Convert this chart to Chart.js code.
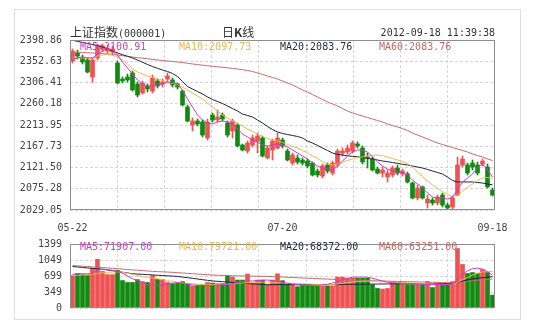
<!DOCTYPE html>
<html>
<head>
<meta charset="utf-8">
<title>上证指数 日K线</title>
<script src="https://cdn.jsdelivr.net/npm/chart.js@4/dist/chart.umd.min.js"></script>
<style>
  body { margin: 0; background: #fff; }
  #wrap { position: relative; width: 534px; height: 322px; overflow: hidden; }
  .box { position: absolute; left: 14px; top: 9px; width: 505px; height: 309px; border: 1px solid #dedede; }
  canvas { position: absolute; left: 0; }
  #kline { top: 0; }
  #vol { top: 230px; }
  .t { position: absolute; white-space: nowrap; font: 10px "DejaVu Sans Mono", monospace; line-height: 12px; color: #333; }
  .cjk { font-family: "Noto Sans CJK SC", sans-serif; font-size: 12px; }
  .c5 { color: #c93cc9; }
  .c10 { color: #e8b654; }
  .c20 { color: #1e2a40; }
  .c60 { color: #c86464; }
</style>
</head>
<body>
<div id="wrap">
  <div class="box"></div>
  <canvas id="kline" width="534" height="235"></canvas>
  <canvas id="vol" width="534" height="92"></canvas>

  <div class="t" style="left:70px;top:25px;line-height:14px"><span class="cjk">上证指数</span>(000001)</div>
  <div class="t cjk" style="left:222px;top:25px;line-height:14px">日<b>K</b>线</div>
  <div class="t" style="right:39px;top:27px">2012-09-18 11:39:38</div>

  <div class="t c5" style="left:80px;top:41px">MA5:2100.91</div>
  <div class="t c10" style="left:179px;top:41px">MA10:2097.73</div>
  <div class="t c20" style="left:280px;top:41px">MA20:2083.76</div>
  <div class="t c60" style="left:379px;top:41px">MA60:2083.76</div>

  <div class="t c5" style="left:80px;top:241px">MA5:71907.00</div>
  <div class="t c10" style="left:179px;top:241px">MA10:79721.00</div>
  <div class="t c20" style="left:280px;top:241px">MA20:68372.00</div>
  <div class="t c60" style="left:379px;top:241px">MA60:63251.00</div>
</div>

<script>
// trading days, 2012-05-22 .. 2012-09-18
const days = [
  '05-22','05-23','05-24','05-25','05-28','05-29','05-30','05-31',
  '06-01','06-04','06-05','06-06','06-07','06-08','06-11','06-12','06-13','06-14','06-15',
  '06-18','06-19','06-20','06-21','06-25','06-26','06-27','06-28','06-29',
  '07-02','07-03','07-04','07-05','07-06','07-09','07-10','07-11','07-12','07-13',
  '07-16','07-17','07-18','07-19','07-20','07-23','07-24','07-25','07-26','07-27','07-30','07-31',
  '08-01','08-02','08-03','08-06','08-07','08-08','08-09','08-10','08-13','08-14','08-15','08-16','08-17',
  '08-20','08-21','08-22','08-23','08-24','08-27','08-28','08-29','08-30','08-31',
  '09-03','09-04','09-05','09-06','09-07','09-10','09-11','09-12','09-13','09-14','09-17','09-18'
];
const shownDays = ['05-22', '07-20', '09-18'];

const opens = [
  2353.2, 2370.6, 2359.7, 2355.4, 2318.4, 2359.7, 2379.3, 2374.9, 2372.8, 2348.8,
  2314.0, 2318.4, 2327.1, 2303.1, 2283.6, 2298.8, 2287.9, 2309.7, 2303.1, 2314.0,
  2311.9, 2303.1, 2287.9, 2253.1, 2213.9, 2222.7, 2220.5, 2185.7, 2235.7, 2224.8,
  2235.7, 2218.3, 2200.9, 2213.9, 2170.4, 2157.4, 2170.4, 2179.1, 2185.7, 2142.2,
  2159.6, 2163.9, 2181.3, 2157.4, 2131.3, 2142.2, 2137.8, 2135.6, 2131.3, 2113.9,
  2103.0, 2126.9, 2109.5, 2126.9, 2153.0, 2155.2, 2157.4, 2172.6, 2163.9, 2144.3,
  2140.0, 2118.2, 2109.5, 2100.8, 2105.2, 2120.4, 2107.4, 2107.4, 2087.8, 2055.2,
  2079.1, 2044.3, 2050.8, 2044.3, 2061.7, 2039.9, 2035.6, 2061.7, 2126.9, 2126.9,
  2131.3, 2126.9, 2129.1, 2122.6, 2072.5
];
const highs = [
  2379.3, 2377.1, 2366.2, 2359.7, 2359.7, 2390.2, 2390.2, 2388.0, 2385.8, 2353.2,
  2318.4, 2324.9, 2331.4, 2307.5, 2309.7, 2303.1, 2322.7, 2314.0, 2314.0, 2327.1,
  2316.2, 2305.3, 2290.1, 2257.5, 2229.2, 2227.0, 2224.8, 2227.0, 2240.1, 2246.6,
  2240.1, 2222.7, 2227.0, 2218.3, 2172.6, 2179.1, 2192.2, 2196.6, 2190.0, 2168.3,
  2183.5, 2196.6, 2185.7, 2161.7, 2153.0, 2148.7, 2142.2, 2140.0, 2133.5, 2118.2,
  2129.1, 2131.3, 2135.6, 2161.7, 2163.9, 2170.4, 2179.1, 2177.0, 2168.3, 2153.0,
  2144.3, 2122.6, 2122.6, 2116.0, 2124.8, 2126.9, 2118.2, 2111.7, 2089.9, 2083.4,
  2081.3, 2061.7, 2055.2, 2061.7, 2066.0, 2044.3, 2059.5, 2144.3, 2146.5, 2131.3,
  2137.8, 2133.5, 2140.0, 2129.1, 2076.9
];
const lows = [
  2348.8, 2357.5, 2346.6, 2327.1, 2307.5, 2355.4, 2372.8, 2370.6, 2366.2, 2303.1,
  2305.3, 2307.5, 2287.9, 2274.9, 2281.4, 2285.7, 2283.6, 2294.4, 2296.6, 2307.5,
  2296.6, 2292.3, 2255.3, 2220.5, 2200.9, 2211.8, 2187.9, 2181.3, 2220.5, 2220.5,
  2222.7, 2187.9, 2185.7, 2166.1, 2157.4, 2153.0, 2166.1, 2153.0, 2144.3, 2140.0,
  2137.8, 2161.7, 2163.9, 2135.6, 2126.9, 2129.1, 2126.9, 2120.4, 2103.0, 2100.8,
  2098.7, 2109.5, 2105.2, 2122.6, 2146.5, 2150.9, 2153.0, 2163.9, 2129.1, 2120.4,
  2113.9, 2107.4, 2100.8, 2090.0, 2100.8, 2105.2, 2103.0, 2087.8, 2053.0, 2050.8,
  2053.0, 2033.4, 2039.9, 2039.9, 2035.6, 2029.1, 2031.2, 2059.5, 2122.6, 2105.2,
  2116.0, 2105.2, 2124.8, 2076.9, 2059.5
];
const closes = [
  2374.9, 2364.0, 2351.0, 2329.2, 2355.4, 2385.8, 2385.8, 2381.5, 2379.3, 2305.3,
  2309.7, 2311.9, 2290.1, 2279.2, 2305.3, 2292.3, 2316.2, 2298.8, 2307.5, 2320.5,
  2301.0, 2296.6, 2257.5, 2222.7, 2222.7, 2216.1, 2192.2, 2220.5, 2224.8, 2231.4,
  2227.0, 2192.2, 2222.7, 2168.3, 2159.6, 2174.8, 2185.7, 2190.0, 2146.5, 2163.9,
  2179.1, 2185.7, 2168.3, 2137.8, 2148.7, 2133.5, 2131.3, 2124.8, 2105.2, 2105.2,
  2124.8, 2113.9, 2131.3, 2157.4, 2157.4, 2163.9, 2174.8, 2168.3, 2133.5, 2142.2,
  2116.0, 2109.5, 2116.0, 2109.5, 2120.4, 2109.5, 2113.9, 2089.9, 2055.2, 2076.9,
  2055.2, 2053.0, 2044.3, 2057.3, 2039.9, 2033.4, 2055.2, 2126.9, 2140.0, 2109.5,
  2122.6, 2109.5, 2135.6, 2079.1, 2061.7
];

const ma5 = [
  2357.0, 2360.0, 2362.0, 2360.0, 2359.7, 2368.4, 2374.9, 2379.3, 2377.1, 2366.2,
  2351.0, 2338.0, 2324.9, 2311.9, 2303.1, 2298.8, 2298.8, 2301.0, 2303.1, 2307.5,
  2305.3, 2303.1, 2290.1, 2270.5, 2253.1, 2235.7, 2224.8, 2218.3, 2216.1, 2220.5,
  2222.7, 2220.5, 2216.1, 2205.2, 2194.4, 2187.9, 2181.3, 2177.0, 2170.4, 2168.3,
  2170.4, 2172.6, 2170.4, 2166.1, 2159.6, 2153.0, 2146.5, 2140.0, 2131.3, 2124.8,
  2120.4, 2118.2, 2116.0, 2124.8, 2135.6, 2146.5, 2155.2, 2159.6, 2159.6, 2155.2,
  2144.3, 2133.5, 2124.8, 2118.2, 2113.9, 2111.7, 2109.5, 2105.2, 2094.3, 2085.6,
  2076.9, 2066.0, 2057.3, 2055.2, 2055.2, 2053.0, 2057.3, 2072.5, 2090.0, 2098.7,
  2107.4, 2120.4, 2129.1, 2116.0, 2100.91
];
const ma10 = [
  2359.7, 2359.7, 2359.7, 2359.7, 2360.8, 2364.0, 2366.2, 2367.3, 2366.2, 2361.9,
  2355.4, 2346.6, 2335.8, 2329.2, 2324.9, 2320.5, 2317.3, 2314.0, 2310.8, 2307.5,
  2304.2, 2301.0, 2296.6, 2290.1, 2283.6, 2277.0, 2270.5, 2261.8, 2253.1, 2244.4,
  2235.7, 2229.2, 2222.7, 2217.2, 2211.8, 2205.2, 2199.8, 2194.4, 2189.0, 2184.6,
  2181.3, 2179.1, 2175.9, 2171.5, 2167.2, 2163.9, 2158.5, 2153.0, 2146.5, 2141.1,
  2134.6, 2129.1, 2126.9, 2129.1, 2133.5, 2136.7, 2140.0, 2143.2, 2144.3, 2146.5,
  2147.6, 2148.7, 2147.6, 2144.3, 2141.1, 2137.8, 2134.6, 2130.2, 2122.6, 2111.7,
  2101.9, 2092.1, 2083.4, 2075.8, 2069.3, 2062.8, 2058.4, 2061.7, 2070.4, 2078.0,
  2085.6, 2093.2, 2098.7, 2099.8, 2097.73
];
const ma20 = [
  2398.4, 2396.0, 2393.6, 2391.5, 2389.1, 2386.9, 2383.6, 2379.3, 2374.9, 2370.6,
  2366.9, 2363.4, 2359.7, 2355.4, 2350.4, 2345.6, 2341.2, 2337.3, 2333.6, 2330.4,
  2326.0, 2319.5, 2308.6, 2297.7, 2292.3, 2286.8, 2281.4, 2274.9, 2269.5, 2265.1,
  2260.7, 2255.3, 2249.8, 2244.4, 2237.9, 2234.6, 2231.4, 2224.8, 2218.3, 2210.7,
  2204.1, 2198.7, 2195.5, 2193.3, 2191.1, 2189.0, 2185.7, 2179.1, 2174.8, 2169.4,
  2163.9, 2158.5, 2153.0, 2149.8, 2148.7, 2146.9, 2145.8, 2144.8, 2143.2, 2141.1,
  2140.0, 2137.8, 2135.6, 2134.1, 2132.4, 2130.6, 2128.5, 2126.9, 2124.8, 2122.6,
  2120.4, 2117.2, 2113.9, 2110.6, 2107.4, 2100.8, 2093.2, 2090.0, 2090.0, 2090.0,
  2090.0, 2088.9, 2087.8, 2085.6, 2083.76
];
const ma60 = [
  2372.8, 2372.3, 2371.7, 2371.0, 2370.6, 2369.9, 2369.3, 2368.6, 2368.0, 2366.2,
  2364.7, 2363.2, 2361.9, 2360.6, 2359.3, 2358.0, 2356.7, 2355.4, 2354.3, 2353.2,
  2352.1, 2351.0, 2350.0, 2348.2, 2346.7, 2345.4, 2344.1, 2342.8, 2341.7, 2340.6,
  2339.5, 2338.4, 2337.1, 2335.8, 2334.3, 2332.5, 2330.4, 2327.1, 2323.9, 2320.5,
  2317.3, 2314.0, 2309.7, 2305.3, 2301.0, 2295.6, 2290.1, 2285.7, 2280.3, 2274.9,
  2269.5, 2264.0, 2259.7, 2255.3, 2249.8, 2244.4, 2240.1, 2236.8, 2233.5, 2230.3,
  2227.0, 2223.7, 2220.5, 2216.1, 2212.9, 2209.6, 2206.3, 2202.0, 2196.6, 2192.2,
  2187.9, 2183.5, 2179.1, 2174.8, 2171.5, 2168.3, 2165.0, 2161.7, 2158.5, 2155.2,
  2150.9, 2147.6, 2144.3, 2140.0, 2136.7
];

// volume, axis units
const vols = [
  709, 755, 729, 709, 870, 1065, 800, 729, 729, 821,
  600, 558, 558, 620, 578, 558, 709, 624, 624, 558,
  532, 558, 578, 532, 479, 493, 512, 558, 545, 532,
  532, 709, 676, 611, 611, 742, 545, 611, 611, 512,
  611, 748, 597, 512, 512, 466, 493, 493, 479, 479,
  479, 479, 479, 676, 676, 650, 650, 650, 650, 650,
  512, 427, 414, 427, 578, 545, 512, 512, 512, 512,
  512, 578, 447, 545, 532, 532, 578, 1300, 952, 755,
  775, 755, 841, 775, 282
];
const vma5 = [
  730, 749, 750, 748, 756, 830, 847, 840, 820, 800,
  760, 700, 640, 600, 560, 500, 493, 495, 500, 520,
  545, 552, 540, 520, 505, 495, 493, 493, 493, 500,
  510, 512, 530, 560, 580, 590, 591, 600, 605, 611,
  600, 580, 560, 540, 525, 512, 500, 495, 490, 495,
  505, 520, 545, 580, 620, 650, 670, 676, 676, 670,
  650, 620, 590, 565, 550, 545, 540, 535, 530, 525,
  520, 515, 512, 512, 512, 515, 520, 640, 740, 810,
  860, 873, 850, 790, 719.07
];
const vma10 = [
  709, 715, 722, 730, 740, 755, 770, 780, 786, 788,
  780, 760, 735, 710, 690, 670, 655, 640, 620, 600,
  580, 560, 550, 540, 530, 520, 515, 512, 512, 512,
  515, 520, 530, 540, 545, 550, 555, 560, 565, 565,
  560, 555, 550, 545, 540, 535, 530, 525, 520, 515,
  512, 512, 515, 525, 540, 555, 570, 580, 585, 585,
  585, 580, 575, 570, 565, 560, 555, 550, 545, 540,
  535, 530, 525, 520, 518, 515, 520, 560, 620, 670,
  720, 760, 790, 800, 797.21
];
const vma20 = [
  906, 896, 886, 876, 866, 857, 847, 831, 815, 798,
  782, 766, 749, 742, 736, 729, 723, 716, 710, 703,
  697, 690, 676, 662, 648, 634, 619, 605, 591, 583,
  575, 567, 559, 551, 543, 535, 527, 519, 512, 510,
  508, 512, 515, 513, 510, 508, 510, 512, 514, 512,
  510, 508, 510, 512, 515, 517, 518, 518, 520, 522,
  523, 524, 525, 526, 527, 528, 529, 530, 531, 531,
  532, 532, 532, 532, 532, 532, 532, 560, 590, 615,
  635, 650, 662, 673, 683.72
];
const vma60 = [
  930, 922, 914, 906, 898, 890, 882, 875, 868, 860,
  850, 841, 833, 825, 817, 809, 801, 795, 790, 785,
  780, 772, 765, 757, 750, 742, 735, 728, 720, 715,
  712, 708, 705, 702, 700, 698, 696, 694, 692, 690,
  688, 684, 678, 672, 667, 662, 657, 652, 647, 642,
  637, 632, 627, 622, 618, 614, 611, 607, 603, 600,
  596, 593, 590, 587, 584, 581, 578, 576, 573, 570,
  568, 565, 563, 560, 558, 555, 553, 560, 572, 584,
  596, 607, 616, 625, 632.51
];

const priceTicks = [2029.05, 2075.28, 2121.50, 2167.73, 2213.95, 2260.18, 2306.41, 2352.63, 2398.86];
const volTicks = [0, 349, 699, 1049, 1399];

const UP = '#ee5252';
const DOWN = '#118a11';
const C_MA5 = '#cc3acc';
const C_MA10 = '#f0b850';
const C_MA20 = '#1c2638';
const C_MA60 = '#c86a6a';
const GRID = '#d6d6d6';
const TICK_FONT = { family: '"DejaVu Sans Mono", monospace', size: 10 };

const candleColors = closes.map((c, i) => (c >= opens[i] ? UP : DOWN));

// solid box round the plot area
const frame = {
  id: 'frame',
  afterDatasetsDraw(chart) {
    const { ctx, chartArea: a } = chart;
    ctx.save();
    ctx.strokeStyle = '#8e8e8e';
    ctx.lineWidth = 1;
    ctx.strokeRect(Math.round(a.left) + 0.5, Math.round(a.top) + 0.5,
      Math.round(a.right - a.left) - 1, Math.round(a.bottom - a.top) - 1);
    ctx.restore();
  }
};

function maLine(label, data, color) {
  return {
    type: 'line', label, data,
    borderColor: color, borderWidth: 1,
    pointRadius: 0, tension: 0, order: 1
  };
}

// x axis used only for the eight vertical dashed columns
const columnAxis = {
  type: 'linear', position: 'top', min: 0, max: 8,
  ticks: { display: false, stepSize: 1 },
  grid: { color: GRID, drawTicks: false },
  border: { display: false, dash: [3, 2] },
  afterFit: s => { s.height = 0; }
};

function valueAxis(min, max, ticks, fmt) {
  return {
    min, max,
    afterBuildTicks: s => { s.ticks = ticks.map(v => ({ value: v })); },
    ticks: { callback: v => fmt(v), padding: 8, font: TICK_FONT, color: '#444' },
    grid: { color: GRID, drawTicks: false },
    border: { display: false, dash: [3, 2] },
    afterFit: s => { s.width = 70; }
  };
}

new Chart(document.getElementById('kline'), {
  type: 'bar',
  data: {
    labels: days,
    datasets: [
      maLine('MA5', ma5, C_MA5),
      maLine('MA10', ma10, C_MA10),
      maLine('MA20', ma20, C_MA20),
      maLine('MA60', ma60, C_MA60),
      {
        label: 'body',
        data: opens.map((o, i) => [o, closes[i]]),
        backgroundColor: candleColors,
        barThickness: 4, grouped: false, order: 2
      },
      {
        label: 'wick',
        data: lows.map((l, i) => [l, highs[i]]),
        backgroundColor: candleColors,
        barThickness: 1, grouped: false, order: 3
      }
    ]
  },
  options: {
    responsive: false,
    animation: false,
    events: [],
    layout: { padding: { left: 0, right: 39, top: 40, bottom: 0 } },
    plugins: { legend: { display: false }, tooltip: { enabled: false } },
    scales: {
      x: {
        type: 'category', offset: true,
        grid: { display: false, drawTicks: false },
        border: { display: false },
        ticks: {
          autoSkip: false, maxRotation: 0, padding: 12,
          font: TICK_FONT, color: '#444',
          callback: (v, i) => (shownDays.includes(days[i]) ? days[i] : '')
        },
        afterFit: s => { s.height = 25; }
      },
      cols: columnAxis,
      y: valueAxis(2029.05, 2398.86, priceTicks, v => Number(v).toFixed(2))
    }
  },
  plugins: [frame]
});

new Chart(document.getElementById('vol'), {
  type: 'bar',
  data: {
    labels: days,
    datasets: [
      maLine('MA5', vma5, C_MA5),
      maLine('MA10', vma10, C_MA10),
      maLine('MA20', vma20, C_MA20),
      maLine('MA60', vma60, C_MA60),
      {
        label: 'volume',
        data: vols,
        backgroundColor: candleColors,
        barThickness: 4, order: 2
      }
    ]
  },
  options: {
    responsive: false,
    animation: false,
    events: [],
    layout: { padding: { left: 0, right: 39, top: 10, bottom: 11 } },
    plugins: { legend: { display: false }, tooltip: { enabled: false } },
    scales: {
      x: { type: 'category', offset: true, display: false },
      cols: columnAxis,
      y: valueAxis(0, 1399, volTicks, v => String(Math.round(v)))
    }
  },
  plugins: [frame]
});
</script>
</body>
</html>
